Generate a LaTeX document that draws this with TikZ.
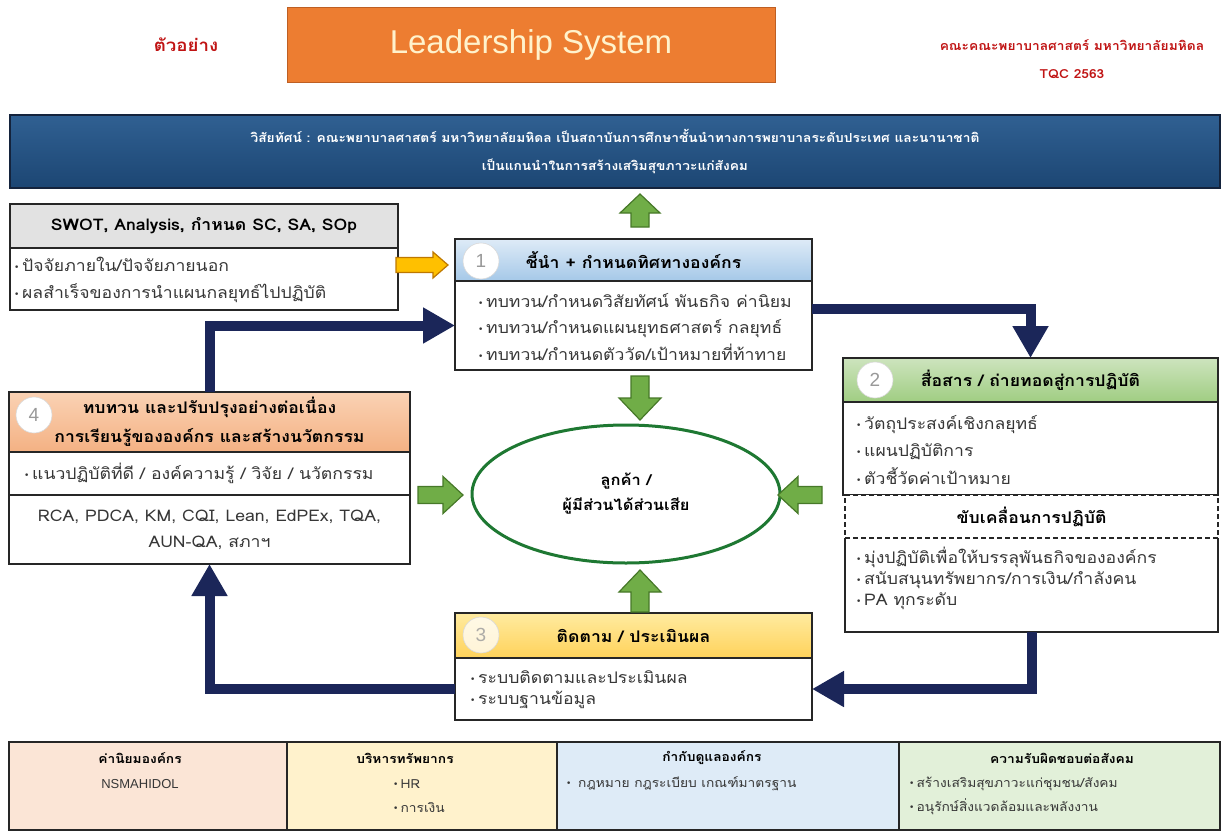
\documentclass[tikz,border=0pt]{standalone}
\usepackage{fontspec}
\setmainfont{Loma}[Script=Thai, FakeStretch=1.1]
\newfontfamily\lsans{Liberation Sans}
\newfontfamily\dvs{DejaVu Sans}
\usetikzlibrary{arrows.meta,shapes.geometric}
\definecolor{tred}{RGB}{192,20,20}
\definecolor{orgfill}{RGB}{237,125,49}
\definecolor{orgline}{RGB}{190,95,35}
\definecolor{cream}{RGB}{255,242,204}
\definecolor{visA}{RGB}{48,96,146}
\definecolor{visB}{RGB}{28,70,115}
\definecolor{visL}{RGB}{20,35,60}
\definecolor{navy}{RGB}{27,38,89}
\definecolor{gfill}{RGB}{112,173,71}
\definecolor{gline}{RGB}{70,120,40}
\definecolor{yfill}{RGB}{255,192,0}
\definecolor{yline}{RGB}{190,120,0}
\definecolor{ellg}{RGB}{30,120,50}
\definecolor{grayhd}{RGB}{226,226,226}
\definecolor{hA}{RGB}{222,235,247}\definecolor{hB}{RGB}{165,200,232}
\definecolor{hC}{RGB}{205,228,190}\definecolor{hD}{RGB}{160,205,130}
\definecolor{hE}{RGB}{255,235,160}\definecolor{hF}{RGB}{255,210,90}
\definecolor{hG}{RGB}{250,210,180}\definecolor{hH}{RGB}{244,177,131}
\definecolor{cA}{RGB}{251,229,214}\definecolor{cB}{RGB}{255,242,204}
\definecolor{cC}{RGB}{222,235,247}\definecolor{cD}{RGB}{226,240,217}
\definecolor{txt}{RGB}{55,55,55}
\newcommand{\bul}{{\dvs\fontsize{9}{9}\selectfont\raisebox{1pt}{•}}\,}
% fill, line, x, y, angle, length, shaft half, head half, head length
\newcommand{\blockarrow}[9]{%
  \draw[line width=1.2pt, draw=#2, fill=#1, line join=miter, shift={(#3,#4)}, rotate=#5]
    (0,-#7) -- ({#6-#9},-#7) -- ({#6-#9},-#8) -- (#6,0) -- ({#6-#9},#8) -- ({#6-#9},#7) -- (0,#7) -- cycle;}
\begin{document}
\begin{tikzpicture}[x=1pt,y=-1pt,
  box/.style={draw=black!85, line width=1.4pt, anchor=north west, inner sep=0pt, outer sep=0pt},
  hd/.style={font=\fontsize{16}{29}\selectfont\bfseries, text=black, align=center},
  btxt/.style={align=left, inner sep=0pt, text=txt, anchor=west},
  numc/.style={circle, fill=white, draw=black!15, line width=0.6pt, minimum size=36pt, inner sep=0pt,
    text=black!40, font=\lsans\fontsize{19}{19}\selectfont},
  conn/.style={draw=navy, line width=10pt, line join=miter, -{Triangle[width=34pt,length=32pt]}},
]
\useasboundingbox (0,0) rectangle (1225,832);
% top
\node[text=tred, font=\fontsize{17}{17}\selectfont\bfseries] (sample) at (186,45) {ตัวอย่าง};
\node[draw=orgline, line width=1pt, fill=orgfill, minimum width=488pt, minimum height=75pt,
  text=cream, font=\lsans\fontsize{33}{33}\selectfont] (title) at (531,45) {Leadership System};
\node[text=tred, align=center, font=\fontsize{12.5}{28}\selectfont\bfseries] (org) at (1072,59)
  {คณะคณะพยาบาลศาสตร์ มหาวิทยาลัยมหิดล\\TQC 2563};
% vision
\node[draw=visL, line width=1.4pt, top color=visA, bottom color=visB, minimum width=1210pt,
  minimum height=73pt, text=white, align=center, font=\fontsize{12.5}{28}\selectfont\bfseries] (vis) at (615,151.5)
  {วิสัยทัศน์ : คณะพยาบาลศาสตร์ มหาวิทยาลัยมหิดล เป็นสถาบันการศึกษาชั้นนำทางการพยาบาลระดับประเทศ และนานาชาติ\\เป็นแกนนำในการสร้างเสริมสุขภาวะแก่สังคม};
% SWOT box
\node[box, fill=grayhd, minimum width=388pt, minimum height=44pt, hd] (swh) at (10,204) {SWOT, Analysis, กำหนด SC, SA, SOp};
\node[box, fill=white, minimum width=388pt, minimum height=62pt] (swb) at (10,248) {};
\node[btxt, font=\fontsize{16}{27}\selectfont] (swt) at (14,280)
  {\bul ปัจจัยภายใน/ปัจจัยภายนอก\\\bul ผลสำเร็จของการนำแผนกลยุทธ์ไปปฏิบัติ};
% box 1
\node[box, top color=hA, bottom color=hB, minimum width=357pt, minimum height=42pt, hd] (b1h) at (455,239) {ชี้นำ + กำหนดทิศทางองค์กร};
\node[box, fill=white, minimum width=357pt, minimum height=89pt] (b1b) at (455,281) {};
\node[numc] (n1) at (481,261) {1};
\node[btxt, font=\fontsize{16}{26.5}\selectfont] (b1t) at (478,327)
  {\bul ทบทวน/กำหนดวิสัยทัศน์ พันธกิจ ค่านิยม\\\bul ทบทวน/กำหนดแผนยุทธศาสตร์ กลยุทธ์\\\bul ทบทวน/กำหนดตัววัด/เป้าหมายที่ท้าทาย};
% box 2
\node[box, top color=hC, bottom color=hD, minimum width=375pt, minimum height=44pt, hd] (b2h) at (843,358) {สื่อสาร / ถ่ายทอดสู่การปฏิบัติ};
\node[box, fill=white, minimum width=375pt, minimum height=93pt] (b2b) at (843,402) {};
\node[numc] (n2) at (875,380) {2};
\node[btxt, font=\fontsize{16}{27.5}\selectfont] (b2t) at (856,450)
  {\bul วัตถุประสงค์เชิงกลยุทธ์\\\bul แผนปฏิบัติการ\\\bul ตัวชี้วัดค่าเป้าหมาย};
\node[box, dashed, fill=white, minimum width=373pt, minimum height=43pt, hd, dash pattern=on 5pt off 3pt] (drv) at (845,495) {ขับเคลื่อนการปฏิบัติ};
\node[box, draw=none, fill=white, minimum width=373pt, minimum height=94pt] (rb) at (845,538) {};
\draw[line width=1.4pt, black!85] (rb.north west) -- (rb.south west) -- (rb.south east) -- (rb.north east);
\draw[line width=1.4pt, black!85, dash pattern=on 5pt off 3pt] (rb.north west) -- (rb.north east);
\node[btxt, font=\fontsize{16}{21}\selectfont] (rbt) at (856,578)
  {\bul มุ่งปฏิบัติเพื่อให้บรรลุพันธกิจขององค์กร\\\bul สนับสนุนทรัพยากร/การเงิน/กำลังคน\\\bul PA ทุกระดับ};
% box 3
\node[box, top color=hE, bottom color=hF, minimum width=357pt, minimum height=45pt, hd] (b3h) at (455,613) {ติดตาม / ประเมินผล};
\node[box, fill=white, minimum width=357pt, minimum height=62pt] (b3b) at (455,658) {};
\node[numc, fill opacity=0.75, text opacity=0.8] (n3) at (481,635) {3};
\node[btxt, font=\fontsize{16}{21}\selectfont] (b3t) at (470,690)
  {\bul ระบบติดตามและประเมินผล\\\bul ระบบฐานข้อมูล};
% box 4
\node[box, top color=hG, bottom color=hH, minimum width=401pt, minimum height=60pt, hd] (b4h) at (9,392)
  {ทบทวน และปรับปรุงอย่างต่อเนื่อง\\การเรียนรู้ขององค์กร และสร้างนวัตกรรม};
\node[numc] (n4) at (34,415) {4};
\node[box, fill=white, minimum width=401pt, minimum height=43pt] (b4b) at (9,452) {};
\node[btxt, font=\fontsize{16}{26}\selectfont] (b4t) at (24,473)
  {\bul แนวปฏิบัติที่ดี / องค์ความรู้ / วิจัย / นวัตกรรม};
\node[box, fill=white, minimum width=401pt, minimum height=69pt, align=center, text=txt,
  font=\fontsize{16}{26}\selectfont] (b4c) at (9,495)
  {RCA, PDCA, KM, CQI, Lean, EdPEx, TQA,\\AUN-QA, สภาฯ};
% centre
\node[draw=ellg, line width=3pt, ellipse, minimum width=308pt, minimum height=138pt, inner sep=0pt,
  align=center, font=\fontsize{15}{25}\selectfont\bfseries] (cust) at (626,494)
  {ลูกค้า /\\ผู้มีส่วนได้ส่วนเสีย};
% connectors
\coordinate (c12) at (1035,309);
\draw[conn] (b1b.east |- c12) -| (b2h.north);
\draw[conn] (rb.south) |- (b3b.east);
\draw[conn] (b3b.west) -| (b4c.south);
\draw[conn] (b4h.north) |- (b1b.west);
% block arrows
\blockarrow{gfill}{gline}{640}{227}{90}{33}{9}{20}{19}
\blockarrow{gfill}{gline}{640}{376}{-90}{44}{9}{21}{22}
\blockarrow{gfill}{gline}{640}{612}{90}{42}{9}{21}{22}
\blockarrow{gfill}{gline}{418}{495}{0}{45}{8.5}{18.5}{20}
\blockarrow{gfill}{gline}{822}{495}{180}{44}{8.5}{18.5}{20}
\blockarrow{yfill}{yline}{396}{265}{0}{52}{7.5}{13}{15}
% bottom row
\node[box, fill=cA, minimum width=278pt, minimum height=88pt] (p1) at (9,742) {};
\node[box, fill=cB, minimum width=270pt, minimum height=88pt] (p2) at (287,742) {};
\node[box, fill=cC, minimum width=342pt, minimum height=88pt] (p3) at (557,742) {};
\node[box, fill=cD, minimum width=321pt, minimum height=88pt] (p4) at (899,742) {};
\node[font=\fontsize{12.5}{12.5}\selectfont\bfseries] (p1h) at (140,758) {ค่านิยมองค์กร};
\node[font=\lsans\fontsize{13}{13}\selectfont, text=txt] (p1t) at (140,784) {NSMAHIDOL};
\node[font=\fontsize{12.5}{12.5}\selectfont\bfseries] (p2h) at (405,758) {บริหารทรัพยากร};
\node[btxt, font=\fontsize{12.5}{24}\selectfont] (p2t) at (393,796) {\bul HR\\\bul การเงิน};
\node[font=\fontsize{12.5}{12.5}\selectfont\bfseries] (p3h) at (712,758) {กำกับดูแลองค์กร};
\node[btxt, font=\fontsize{12.5}{24}\selectfont] (p3t) at (566,784) {\bul\ กฎหมาย กฎระเบียบ เกณฑ์มาตรฐาน};
\node[font=\fontsize{12.5}{12.5}\selectfont\bfseries] (p4h) at (1062,758) {ความรับผิดชอบต่อสังคม};
\node[btxt, font=\fontsize{12.5}{24}\selectfont] (p4t) at (909,796) {\bul สร้างเสริมสุขภาวะแก่ชุมชน/สังคม\\\bul อนุรักษ์สิ่งแวดล้อมและพลังงาน};
\end{tikzpicture}
\end{document}
